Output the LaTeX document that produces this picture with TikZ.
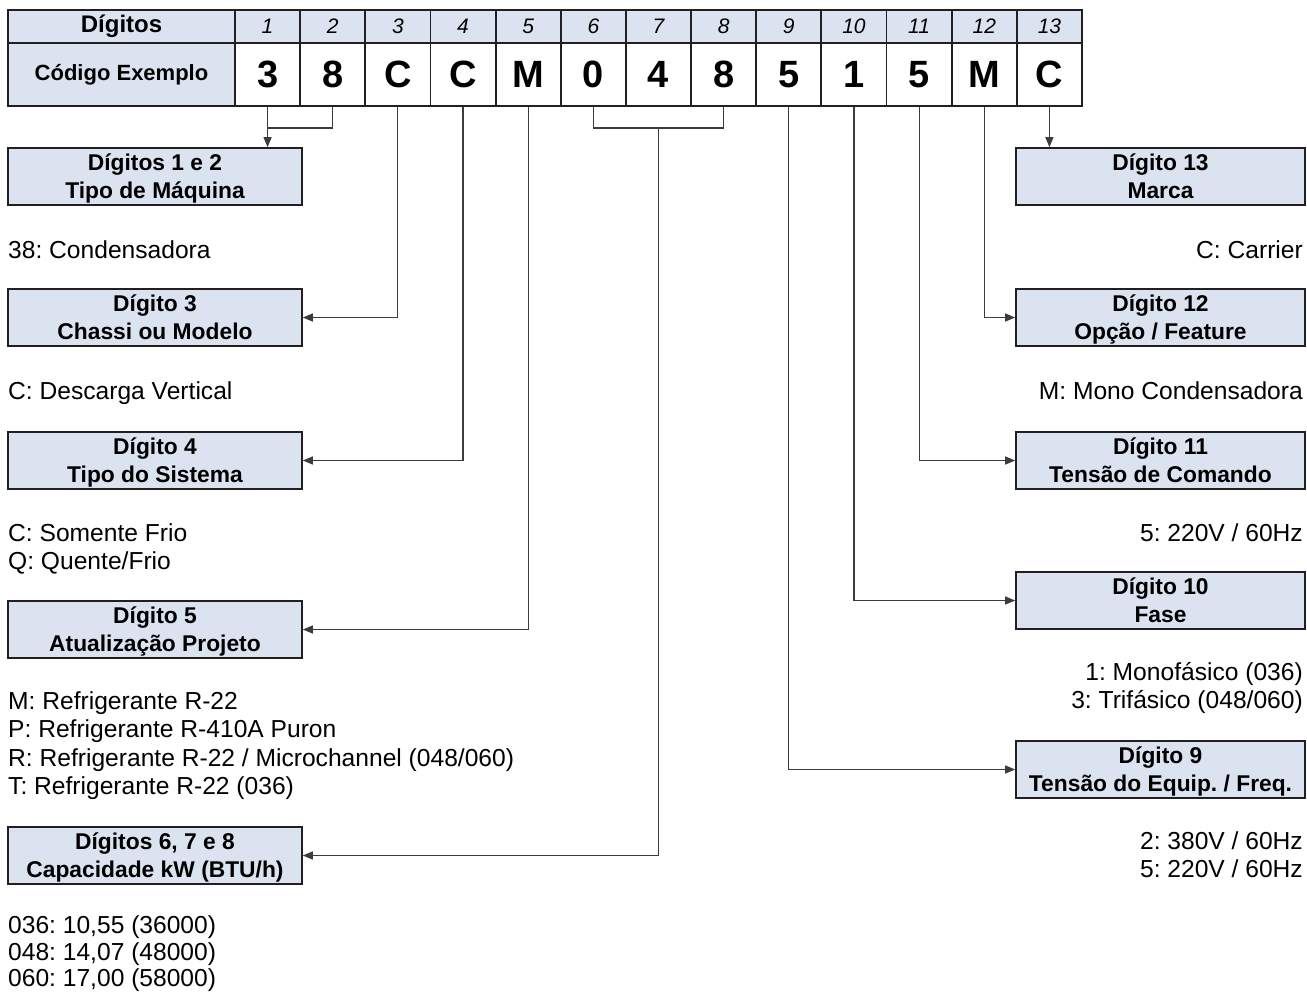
\documentclass[tikz,border=0pt]{standalone}
\usepackage{fontspec}
\setmainfont{Liberation Sans}
\usetikzlibrary{arrows.meta,calc}
\definecolor{hdr}{HTML}{DCE3F0}
\definecolor{ln}{HTML}{3C3C3C}
\definecolor{bd}{HTML}{231F20}
\begin{document}
\frenchspacing
\begin{tikzpicture}[x=1pt,y=-1pt,
 cell/.style={draw=bd,line width=1.9pt,minimum width=65.15pt,inner sep=0pt,anchor=center},
 hcell/.style={cell,fill=hdr,minimum height=33pt,font=\fontsize{21}{24}\selectfont\itshape},
 dcell/.style={cell,fill=white,minimum height=63pt,font=\fontsize{38}{42}\selectfont\bfseries},
 infobox/.style={draw=bd,line width=1.6pt,fill=hdr,minimum width=#1,minimum height=57pt,inner sep=0pt,align=center,font=\fontsize{22.8}{28}\selectfont\bfseries},
 infobox/.default=294pt,
 body/.style={font=\fontsize{24.6}{28}\selectfont,inner sep=0pt},
 conn/.style={draw=ln,line width=1.2pt},
 arr/.style={conn,-{Triangle[length=10pt,width=8pt]}}
]
\useasboundingbox (0,0) rectangle (1307,991);
% table
\node[cell,fill=hdr,minimum width=227pt,minimum height=33pt,font=\fontsize{24}{26}\selectfont\bfseries] (hdig) at (121.5,26.5) {Dígitos};
\node[cell,fill=hdr,minimum width=227pt,minimum height=63pt,font=\fontsize{22}{24}\selectfont\bfseries] (hcode) at (121.5,74.5) {Código Exemplo};
\foreach \d [count=\i] in {3,8,C,C,M,0,4,8,5,1,5,M,C} {
  \pgfmathsetmacro\cx{235+(\i-0.5)*65.1538}
  \node[hcell] (h\i) at (\cx,26.5) {\i};
  \node[dcell] (c\i) at (\cx,74.5) {\d};
}
% left boxes
\node[infobox] (boxA) at (155,176.5) {Dígitos 1 e 2\\\smash{Tipo de Máquina}};
\node[infobox] (box3) at (155,317.5) {Dígito 3\\\smash{Chassi ou Modelo}};
\node[infobox] (box4) at (155,460.5) {Dígito 4\\\smash{Tipo do Sistema}};
\node[infobox] (box5) at (155,629.5) {Dígito 5\\\smash{Atualização Projeto}};
\node[infobox] (box678) at (155,855.5) {Dígitos 6, 7 e 8\\\smash{Capacidade kW (BTU/h)}};
% right boxes
\node[infobox=289pt] (box13) at (1160.5,176.5) {Dígito 13\\\smash{Marca}};
\node[infobox=289pt] (box12) at (1160.5,317.5) {Dígito 12\\\smash{Opção / Feature}};
\node[infobox=289pt] (box11) at (1160.5,460.5) {Dígito 11\\\smash{Tensão de Comando}};
\node[infobox=289pt] (box10) at (1160.5,600.5) {Dígito 10\\\smash{Fase}};
\node[infobox=289pt] (box9) at (1160.5,769.5) {Dígito 9\\\smash{Tensão do Equip. / Freq.}};
% connectors
\coordinate (j12) at ($(c1.south)+(0,21)$);
\draw[conn] (c2.south) |- (j12);
\draw[arr] (c1.south) -- (c1.south |- boxA.north);
\draw[arr] (c3.south) |- (box3.east);
\draw[arr] (c4.south) |- (box4.east);
\draw[arr] (c5.south) |- (box5.east);
\coordinate (j6) at ($(c6.south)+(0,21)$);
\draw[conn] (c6.south) -- (j6) -| (c8.south);
\draw[arr] (j6 -| c7.south) |- (box678.east);
\draw[arr] (c9.south) |- (box9.west);
\draw[arr] (c10.south) |- (box10.west);
\draw[arr] (c11.south) |- (box11.west);
\draw[arr] (c12.south) |- (box12.west);
\draw[arr] (c13.south) -- (c13.south |- box13.north);
% left texts (baseline = centre + 9)
\node[body,anchor=base west] (t1) at (8,258) {38: Condensadora};
\node[body,anchor=base west] (t3) at (8,399) {C: Descarga Vertical};
\node[body,anchor=base west] (t4a) at (8,541) {C: Somente Frio};
\node[body,anchor=base west] (t4b) at (8,569) {Q: Quente/Frio};
\node[body,anchor=base west] (t5a) at (8,709) {M: Refrigerante R-22};
\node[body,anchor=base west] (t5b) at (8,737.5) {P: Refrigerante R-410A Puron};
\node[body,anchor=base west] (t5c) at (8,766) {R: Refrigerante R-22 / Microchannel (048/060)};
\node[body,anchor=base west] (t5d) at (8,794.5) {T: Refrigerante R-22 (036)};
\node[body,anchor=base west] (t6a) at (8,933) {036: 10,55 (36000)};
\node[body,anchor=base west] (t6b) at (8,960.5) {048: 14,07 (48000)};
\node[body,anchor=base west] (t6c) at (8,986) {060: 17,00 (58000)};
% right texts
\node[body,anchor=base east] (r13) at (1303,258) {C: Carrier};
\node[body,anchor=base east] (r12) at (1303,399) {M: Mono Condensadora};
\node[body,anchor=base east] (r11) at (1303,541) {5: 220V / 60Hz};
\node[body,anchor=base east] (r10a) at (1303,680) {1: Monofásico (036)};
\node[body,anchor=base east] (r10b) at (1303,708) {3: Trifásico (048/060)};
\node[body,anchor=base east] (r9a) at (1303,849) {2: 380V / 60Hz};
\node[body,anchor=base east] (r9b) at (1303,877) {5: 220V / 60Hz};
\end{tikzpicture}
\end{document}
